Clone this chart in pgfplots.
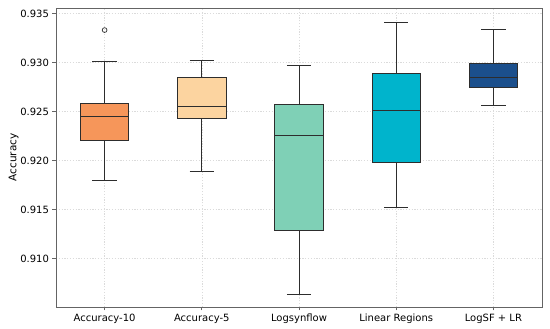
\documentclass[border=0pt]{standalone}
\usepackage{pgfplots}
\pgfplotsset{compat=1.18}
\usepackage{fontspec}
\setmainfont{DejaVu Sans}
\definecolor{c1}{RGB}{246,150,90}
\definecolor{c2}{RGB}{252,212,160}
\definecolor{c3}{RGB}{127,208,182}
\definecolor{c4}{RGB}{0,180,204}
\definecolor{c5}{RGB}{27,79,140}
\definecolor{edge}{RGB}{45,45,45}
\definecolor{frame}{RGB}{100,100,100}
% #1 left, #2 center, #3 right, #4 cap left, #5 cap right,
% #6 lower whisker, #7 q1, #8 median, #9 q3, then upper whisker and colour
\newcommand\bx[9]{%
  \def\bxa{#1}\def\bxb{#2}\def\bxc{#3}\def\bxd{#4}\def\bxe{#5}%
  \def\bxf{#6}\def\bxg{#7}\def\bxh{#8}\def\bxi{#9}\bxcont}
\newcommand\bxcont[2]{%
  \edef\bxdo{%
  \noexpand\addplot[edge, line width=0.8pt] coordinates {(\bxb,\bxf) (\bxb,\bxg)};
  \noexpand\addplot[edge, line width=0.8pt] coordinates {(\bxb,\bxi) (\bxb,#1)};
  \noexpand\addplot[edge, line width=0.8pt] coordinates {(\bxd,\bxf) (\bxe,\bxf)};
  \noexpand\addplot[edge, line width=0.8pt] coordinates {(\bxd,#1) (\bxe,#1)};
  \noexpand\addplot[edge, line width=0.8pt, fill=#2] coordinates {(\bxa,\bxg) (\bxc,\bxg) (\bxc,\bxi) (\bxa,\bxi)} -- cycle;
  \noexpand\addplot[edge, line width=0.8pt] coordinates {(\bxa,\bxh) (\bxc,\bxh)};
  }\bxdo}
\begin{document}
\begin{tikzpicture}
\begin{axis}[
  scale only axis,
  width=486pt, height=299pt,
  xmin=0.5, xmax=5.5,
  ymin=0.90507, ymax=0.93555,
  xtick={1,2,3,4,5},
  xticklabels={Accuracy-10,Accuracy-5,Logsynflow,Linear Regions,LogSF + LR},
  ytick={0.910,0.915,0.920,0.925,0.930,0.935},
  yticklabel style={/pgf/number format/.cd,fixed,fixed zerofill,precision=3},
  /pgf/number format/assume math mode=true,
  ylabel={Accuracy},
  tick label style={font=\fontsize{10}{12}\selectfont},
  label style={font=\fontsize{10.5}{12}\selectfont},
  ylabel style={yshift=-5pt},
  tick align=outside,
  major tick length=3.5pt,
  tick style={frame, line width=0.6pt},
  xtick pos=bottom, ytick pos=left,
  axis line style={frame, line width=0.8pt},
  grid=major,
  major grid style={gray!28, dash pattern=on 1.2pt off 1.6pt, line width=0.5pt},
]
\bx{0.75}{1}{1.25}{0.875}{1.125}{0.91800}{0.92204}{0.92449}{0.92586}{0.93010}{c1}
\bx{1.75}{2}{2.25}{1.875}{2.125}{0.91892}{0.92433}{0.92551}{0.92847}{0.93020}{c2}
\bx{2.75}{3}{3.25}{2.875}{3.125}{0.90640}{0.91286}{0.92259}{0.92568}{0.92969}{c3}
\bx{3.75}{4}{4.25}{3.875}{4.125}{0.91520}{0.91976}{0.92507}{0.92885}{0.93412}{c4}
\bx{4.75}{5}{5.25}{4.875}{5.125}{0.92561}{0.92745}{0.92851}{0.92990}{0.93341}{c5}
\addplot[only marks, mark=o, mark size=2.4pt, mark options={draw=edge, line width=0.7pt}] coordinates {(1,0.93330)};
\end{axis}
\path ([shift={(-56pt,-22pt)}]current axis.south west) rectangle ([shift={(8pt,8pt)}]current axis.north east);
\end{tikzpicture}
\end{document}
